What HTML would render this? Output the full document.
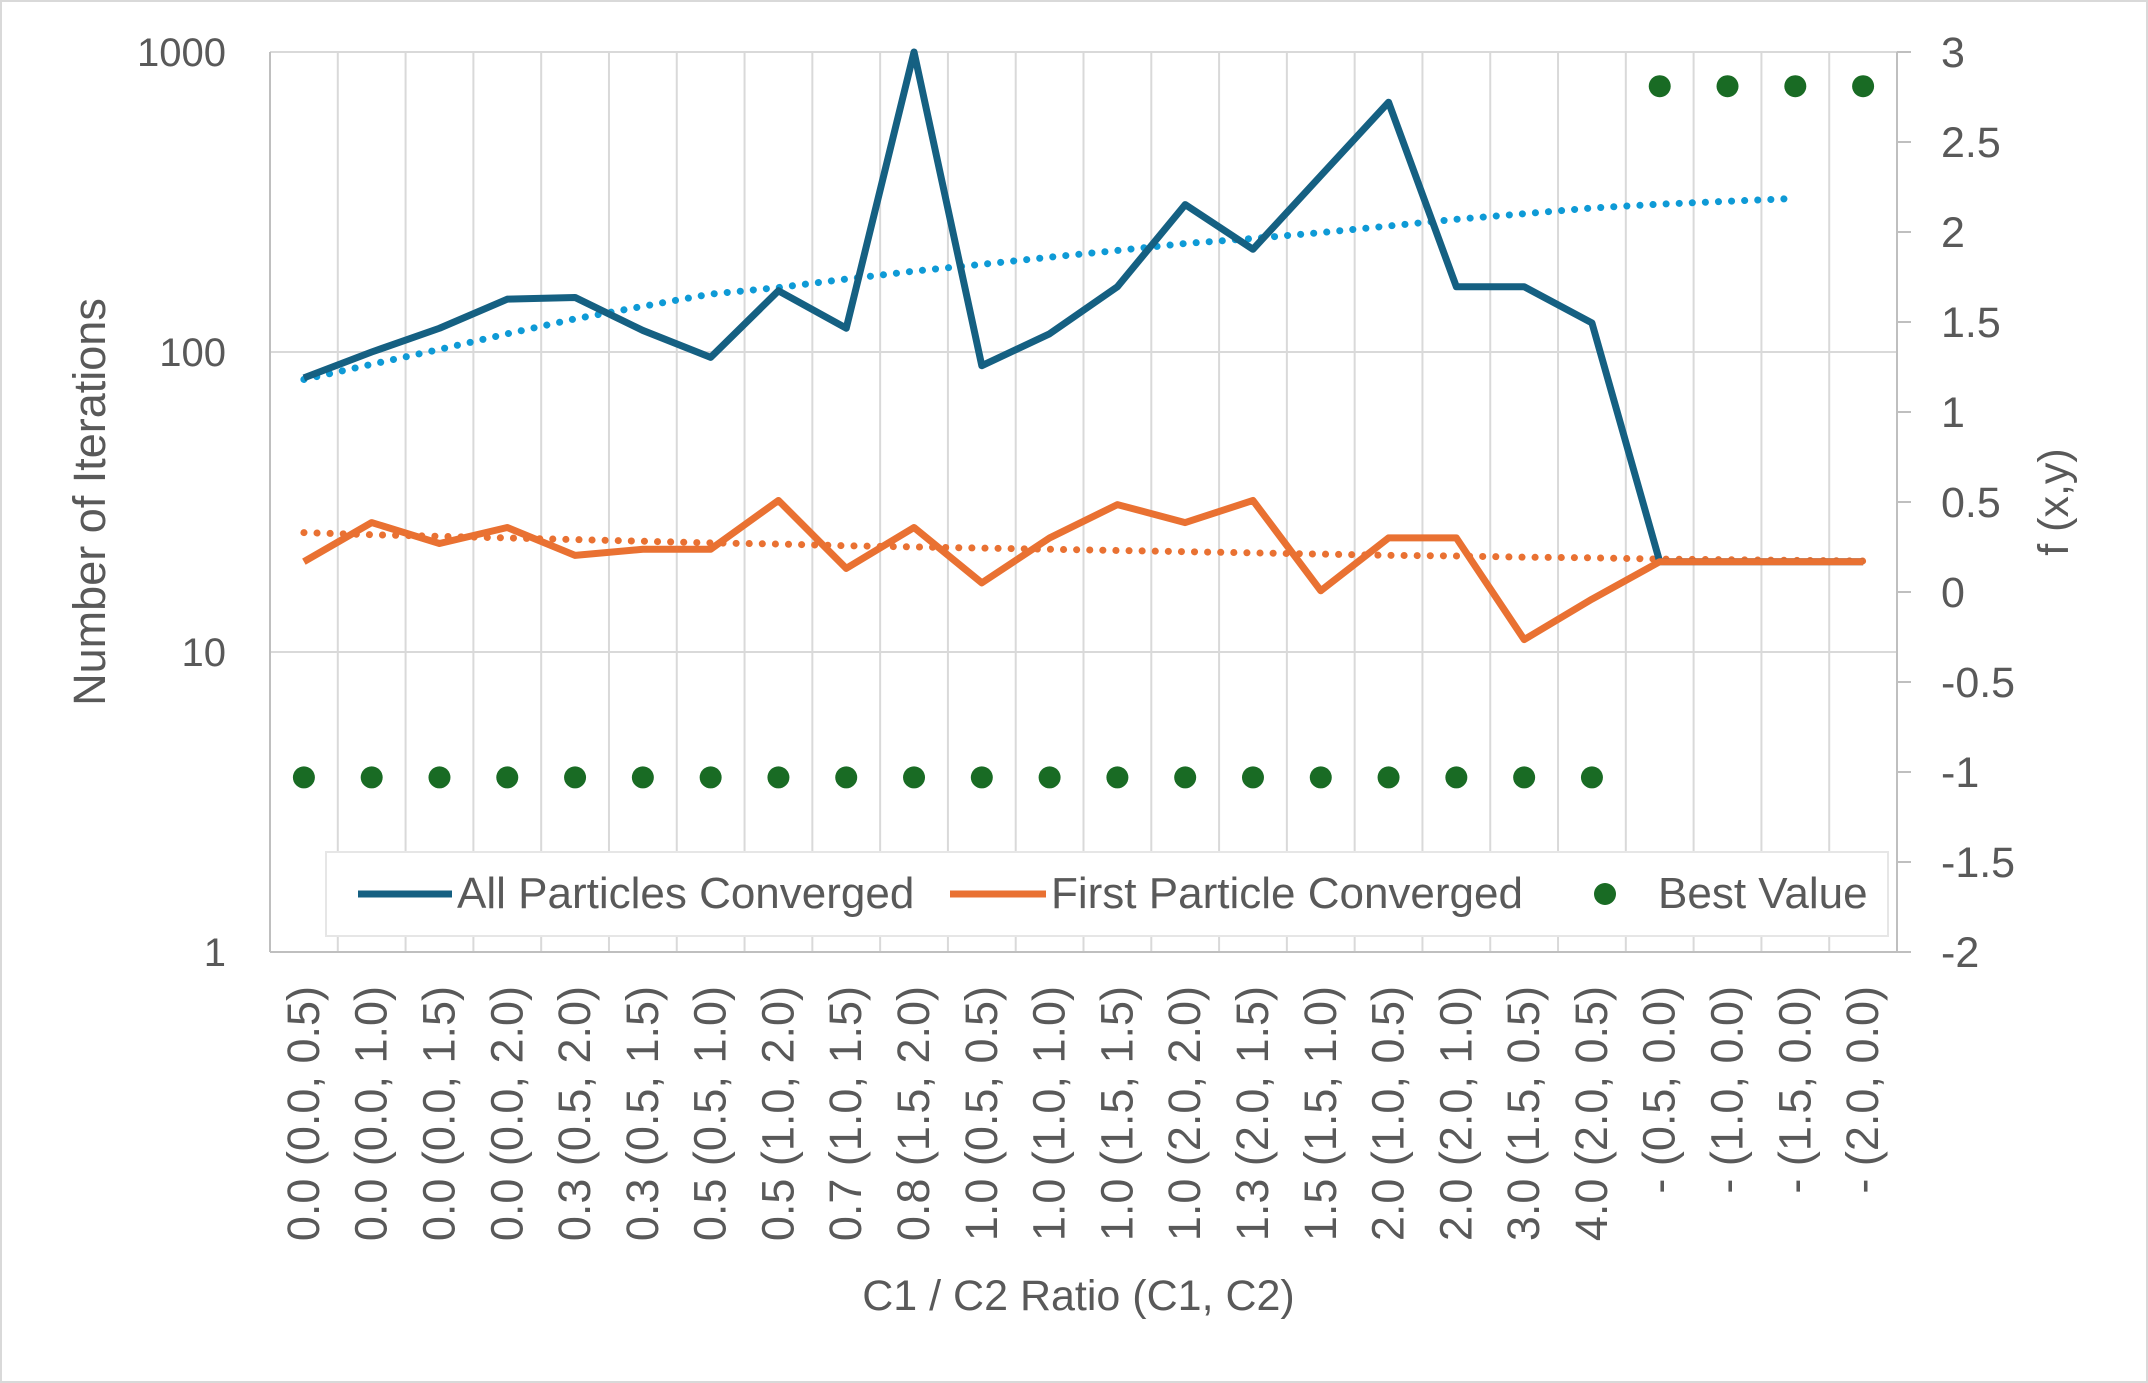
<!DOCTYPE html>
<html><head><meta charset="utf-8"><style>
html,body{margin:0;padding:0;background:#fff}
svg{display:block;font-family:"Liberation Sans",Arial,sans-serif}
</style></head><body>
<svg id="c" width="2148" height="1383" viewBox="0 0 2148 1383">
<rect x="1" y="1" width="2146" height="1381" fill="#fff" stroke="#d9d9d9" stroke-width="2"/>
<g id="grid"></g>
<g id="marks"></g>
<g id="axes"></g>
</svg>
<script>
const categories=["0.0 (0.0, 0.5)","0.0 (0.0, 1.0)","0.0 (0.0, 1.5)","0.0 (0.0, 2.0)","0.3 (0.5, 2.0)","0.3 (0.5, 1.5)","0.5 (0.5, 1.0)","0.5 (1.0, 2.0)","0.7 (1.0, 1.5)","0.8 (1.5, 2.0)","1.0 (0.5, 0.5)","1.0 (1.0, 1.0)","1.0 (1.5, 1.5)","1.0 (2.0, 2.0)","1.3 (2.0, 1.5)","1.5 (1.5, 1.0)","2.0 (1.0, 0.5)","2.0 (2.0, 1.0)","3.0 (1.5, 0.5)","4.0 (2.0, 0.5)","- (0.5, 0.0)","- (1.0, 0.0)","- (1.5, 0.0)","- (2.0, 0.0)"];
const allConverged=[82,100,120,150,152,118,96,160,120,1000,90,115,165,310,220,387,680,165,165,125,20,20,20,20];
const firstConverged=[20,27,23,26,21,22,22,32,19,26,17,24,31,27,32,16,24,24,11,15,20,20,20,20];
const allTrend=[81,91,102,115,129,142,156,164,175,186,196,207,218,230,239,250,263,277,289,302,311,318,325];
const firstTrend=[25,24.6,24.3,24,23.7,23.4,23.1,22.9,22.6,22.4,22.2,22,21.8,21.6,21.4,21.2,21,20.9,20.7,20.6,20.4,20.3,20.2,20.1];
const bestValue=[-1.03,-1.03,-1.03,-1.03,-1.03,-1.03,-1.03,-1.03,-1.03,-1.03,-1.03,-1.03,-1.03,-1.03,-1.03,-1.03,-1.03,-1.03,-1.03,-1.03,2.81,2.81,2.81,2.81];
const leftTicks=[1,10,100,1000];
const rightTicks=[-2,-1.5,-1,-0.5,0,0.5,1,1.5,2,2.5,3];

const L=270,R=1897,T=52,B=952;
const NS="http://www.w3.org/2000/svg";
const step=(R-L)/categories.length;
const x=i=>L+step*(i+0.5);
const yL=v=>B-(Math.log10(v)-0)/3*(B-T);
const yR=v=>B-(v+2)/5*(B-T);
function mk(tag,attrs,parent){const e=document.createElementNS(NS,tag);for(const k in attrs)e.setAttribute(k,attrs[k]);parent.appendChild(e);return e;}
const grid=document.getElementById('grid'),marks=document.getElementById('marks'),axes=document.getElementById('axes');
const TC="#595959";
for(let i=1;i<=categories.length;i++){const l=mk('line',{x1:L+step*i,x2:L+step*i,y1:T,y2:B,stroke:'#d9d9d9','stroke-width':2},grid);
}
leftTicks.forEach(t=>{const l=mk('line',{x1:L,x2:R,y1:yL(t),y2:yL(t),stroke:'#d9d9d9','stroke-width':2},grid);

const tx=mk('text',{x:226,y:yL(t)+14,'text-anchor':'end','font-size':40,fill:TC},axes);tx.textContent=t;
});
rightTicks.forEach(t=>{const l=mk('line',{x1:R,x2:R+14,y1:yR(t),y2:yR(t),stroke:'#bfbfbf','stroke-width':2},axes);

const tx=mk('text',{x:1941,y:yR(t)+15,'font-size':43,fill:TC},axes);tx.textContent=t;
});
let a=mk('line',{x1:L,x2:L,y1:T,y2:B,stroke:'#bfbfbf','stroke-width':2},axes);
a=mk('line',{x1:R,x2:R,y1:T,y2:B,stroke:'#bfbfbf','stroke-width':2},axes);
a=mk('line',{x1:L,x2:R,y1:B,y2:B,stroke:'#bfbfbf','stroke-width':2},axes);
categories.forEach((c,i)=>{const tx=mk('text',{x:0,y:0,'text-anchor':'end','font-size':45,fill:TC,transform:`translate(${x(i)+15},986) rotate(-90)`},axes);tx.textContent=c;
});
let t=mk('text',{x:(L+R)/2-5,y:1310,'text-anchor':'middle','font-size':43,fill:TC},axes);t.textContent="C1 / C2 Ratio (C1, C2)";
t=mk('text',{x:0,y:0,'text-anchor':'middle','font-size':45,fill:TC,transform:'translate(105,502) rotate(-90)'},axes);t.textContent="Number of Iterations";
t=mk('text',{x:0,y:0,'text-anchor':'middle','font-size':43,fill:TC,transform:'translate(2068,502) rotate(-90)'},axes);t.textContent="f (x,y)";
const pts=(arr,f)=>arr.map((v,i)=>x(i)+','+f(v)).join(' ');
let p=mk('polyline',{points:pts(allTrend,yL),fill:'none',stroke:'#0e9ad6','stroke-width':7,'stroke-dasharray':'0.1 13','stroke-linecap':'round'},marks);
p=mk('polyline',{points:pts(firstTrend,yL),fill:'none',stroke:'#e97132','stroke-width':7,'stroke-dasharray':'0.1 13','stroke-linecap':'round'},marks);
p=mk('polyline',{points:pts(allConverged,yL),fill:'none',stroke:'#156082','stroke-width':7,'stroke-linejoin':'round'},marks);
p=mk('polyline',{points:pts(firstConverged,yL),fill:'none',stroke:'#e97132','stroke-width':7,'stroke-linejoin':'round'},marks);
bestValue.forEach((v,i)=>{const c=mk('circle',{cx:x(i),cy:yR(v),r:11,fill:'#196b24'},marks);});
const lg=mk('g',{},axes);
let r=mk('rect',{x:326,y:852,width:1562,height:84,fill:'#fff',stroke:'#e6e6e6','stroke-width':2},lg);
let e=mk('line',{x1:358,x2:452,y1:894,y2:894,stroke:'#156082','stroke-width':7},lg);
t=mk('text',{x:457,y:908,'font-size':44,fill:TC},lg);t.textContent="All Particles Converged";
e=mk('line',{x1:950,x2:1046,y1:894,y2:894,stroke:'#e97132','stroke-width':7},lg);
t=mk('text',{x:1051,y:908,'font-size':44,fill:TC},lg);t.textContent="First Particle Converged";
e=mk('circle',{cx:1605,cy:894,r:11,fill:'#196b24'},lg);
t=mk('text',{x:1658,y:908,'font-size':44,fill:TC},lg);t.textContent="Best Value";
</script>
</body></html>
